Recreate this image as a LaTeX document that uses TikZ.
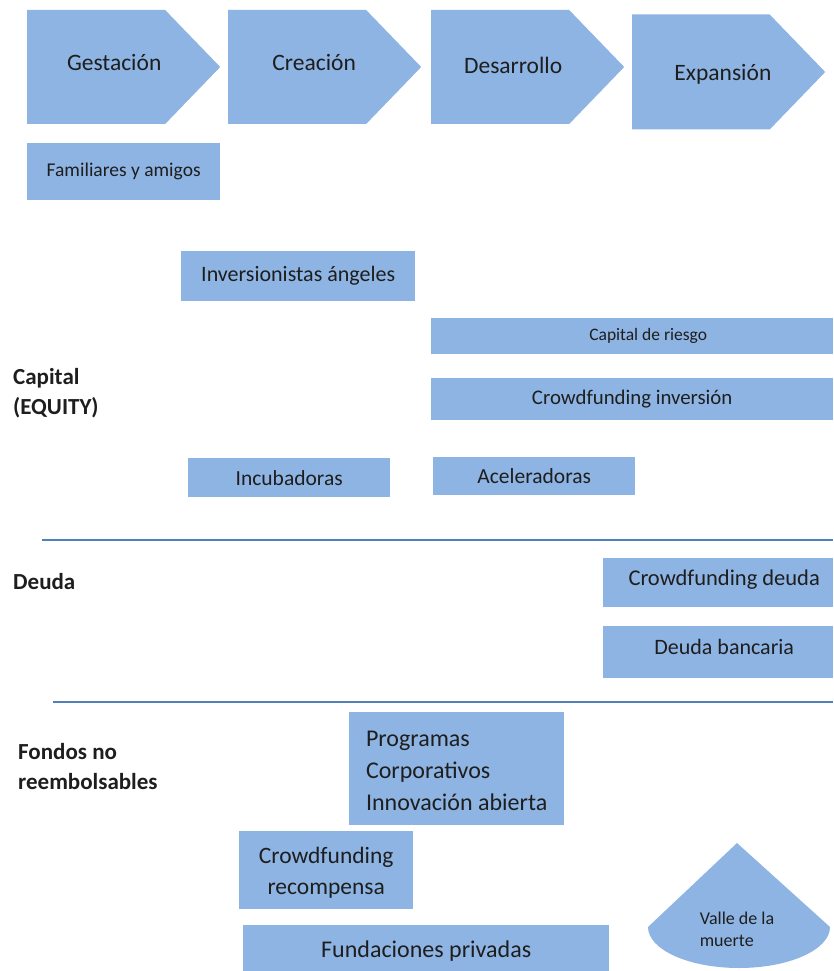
\documentclass[tikz,border=0pt]{standalone}
\usepackage{fontspec}
\setmainfont{Carlito}
\usetikzlibrary{shapes.symbols,positioning}

\definecolor{relleno}{HTML}{8EB4E3}
\definecolor{linea}{HTML}{4F81BD}
\definecolor{texto}{HTML}{1E1E1E}

\tikzset{
    etapa/.style={signal, signal to=east, signal pointer angle=92, fill=relleno,
        minimum width=193pt, minimum height=114pt, inner sep=0pt, anchor=west},
    rotulo/.style={text=texto, font=\fontsize{23.5}{26}\selectfont},
    caja/.style={fill=relleno, inner sep=0pt, anchor=north west, text=texto,
        font=\fontsize{21.5}{24}\selectfont},
    leyenda/.style={text=texto, inner sep=0pt, anchor=center},
    titulo/.style={font=\bfseries\fontsize{23}{30}\selectfont, align=left,
        anchor=west, inner sep=0pt, text=texto},
}

\begin{document}
\begin{tikzpicture}[x=1pt,y=-1pt]
        \useasboundingbox (0,0) rectangle (833,971);
        % etapas
        \node[etapa,label={[rotulo,xshift=18pt,yshift=4pt]center:Gestación}] (gestacion) at (27,67) {};
        \node[etapa,label={[rotulo,xshift=17pt,yshift=4pt]center:Creación}] (creacion) at (228,67) {};
        \node[etapa,label={[rotulo,xshift=13pt,yshift=2pt]center:Desarrollo}] (desarrollo) at (431,67) {};
        \node[etapa,minimum height=115pt,label={[rotulo,xshift=22pt,yshift=-2pt]center:Expansión}] (expansion) at (632,72) {};

        % capital
        \node[caja,minimum width=193pt,minimum height=57pt,font=\fontsize{19.5}{21}\selectfont] (familiares) at (27,143) {Familiares y amigos};
        \node[caja,minimum width=234pt,minimum height=50pt,font=\fontsize{22}{24}\selectfont] (angeles) at (181,251) {Inversionistas ángeles};
        \node[caja,minimum width=402pt,minimum height=36pt,label={[leyenda,font=\fontsize{17.5}{20}\selectfont,xshift=16pt]center:Capital de riesgo}] (riesgo) at (431,318) {};
        \node[caja,minimum width=402pt,minimum height=42pt,font=\fontsize{20.8}{23}\selectfont] (cfinversion) at (431,378) {Crowdfunding inversión};
        \node[caja,minimum width=202pt,minimum height=39pt] (incubadoras) at (188,458) {Incubadoras};
        \node[caja,minimum width=202pt,minimum height=38pt] (aceleradoras) at (433,457) {Aceleradoras};

        % deuda
        \node[caja,minimum width=230pt,minimum height=49pt,label={[leyenda,font=\fontsize{22.5}{24}\selectfont,xshift=6pt,yshift=3pt]center:Crowdfunding deuda}] (cfdeuda) at (603,558) {};
        \node[caja,minimum width=230pt,minimum height=52pt,label={[leyenda,font=\fontsize{22}{24}\selectfont,xshift=6pt,yshift=5pt]center:Deuda bancaria}] (bancaria) at (603,626) {};

        % fondos no reembolsables
        \node[caja,minimum width=215pt,minimum height=113pt,label={[leyenda,align=left,font=\fontsize{24}{32}\selectfont,yshift=-2pt]center:Programas\\Corporativos\\Innovación abierta}] (programas) at (349,712) {};
        \node[caja,minimum width=174pt,minimum height=78pt,label={[leyenda,align=center,font=\fontsize{23.5}{31}\selectfont,yshift=-3pt]center:Crowdfunding\\recompensa}] (cfrecompensa) at (239,831) {};
        \node[caja,minimum width=366pt,minimum height=46pt,label={[leyenda,font=\fontsize{24}{26}\selectfont,yshift=-3pt]center:Fundaciones privadas}] (fundaciones) at (243,925) {};

        \fill[relleno] (648,927) -- (737,843) -- (830,927)
            arc[start angle=0,end angle=180,x radius=91,y radius=41] -- cycle;
        \node[align=left,text=texto,font=\fontsize{18}{22}\selectfont] (valle) at (737,929) {Valle de la\\muerte};

        % separadores
        \coordinate (sepa) at (42,540);
        \coordinate (sepb) at (833,540);
        \coordinate (sepc) at (53,702);
        \coordinate (sepd) at (833,702);
        \draw[linea,line width=1.3pt] (sepa) -- (sepb);
        \draw[linea,line width=1.3pt] (sepc) -- (sepd);

        % filas
        \node[titulo] (capital) at (13,393) {Capital\\(EQUITY)};
        \node[titulo] (deuda) at (13,582) {Deuda};
        \node[titulo] (fondos) at (18,767) {Fondos no\\reembolsables};
    \end{tikzpicture}
\end{document}
